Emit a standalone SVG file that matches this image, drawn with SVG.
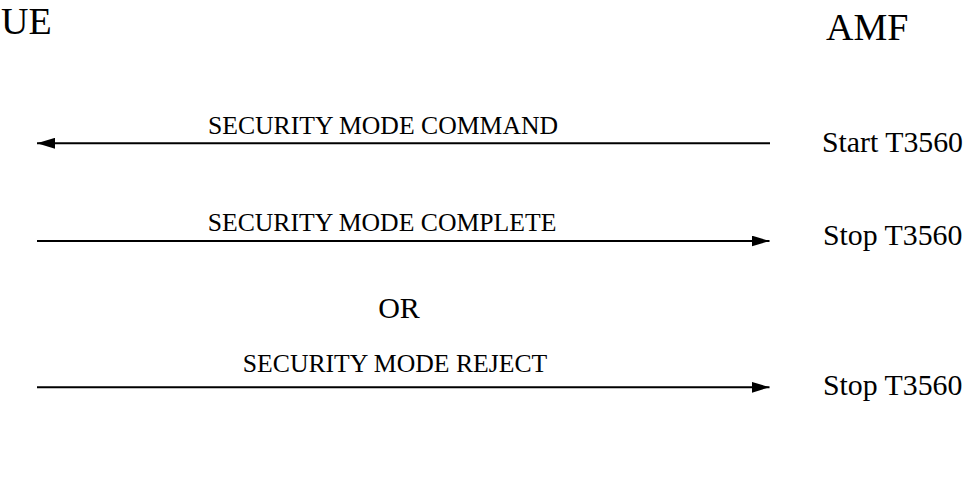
<svg xmlns="http://www.w3.org/2000/svg" width="975" height="502" viewBox="0 0 975 502">
<defs>
<marker id="ah" viewBox="0 0 18 11" refX="18" refY="5.5" markerWidth="18" markerHeight="11" markerUnits="userSpaceOnUse" orient="auto">
<path d="M0,0 L18,5.5 L0,11 Z" fill="#000"/>
</marker>
</defs>
<rect width="975" height="502" fill="#fff"/>
<g id="ue"><text x="1" y="33.5" font-family="Liberation Serif" font-size="38" fill="#000">UE</text></g>
<g id="amf"><text x="826" y="40" font-family="Liberation Serif" font-size="38" fill="#000">AMF</text></g>
<g id="labels" fill="#000">
<text x="383" y="134" font-family="Liberation Serif" font-size="25.7" text-anchor="middle">SECURITY MODE COMMAND</text>
<text x="382" y="231" font-family="Liberation Serif" font-size="25.7" text-anchor="middle">SECURITY MODE COMPLETE</text>
<text x="399" y="318" font-family="Liberation Serif" font-size="30" text-anchor="middle">OR</text>
<text x="395" y="372" font-family="Liberation Serif" font-size="25.7" text-anchor="middle">SECURITY MODE REJECT</text>
<text x="822" y="152" font-family="Liberation Serif" font-size="29.8">Start T3560</text>
<text x="823" y="245" font-family="Liberation Serif" font-size="29.8">Stop T3560</text>
<text x="823" y="395" font-family="Liberation Serif" font-size="29.8">Stop T3560</text>
</g>
<g id="connectors" stroke="#000" stroke-width="2" fill="none">
<line x1="770" y1="143.3" x2="37" y2="143.3" marker-end="url(#ah)"/>
<line x1="37" y1="241" x2="769.5" y2="241" marker-end="url(#ah)"/>
<line x1="37" y1="387.3" x2="769.5" y2="387.3" marker-end="url(#ah)"/>
</g>
</svg>
